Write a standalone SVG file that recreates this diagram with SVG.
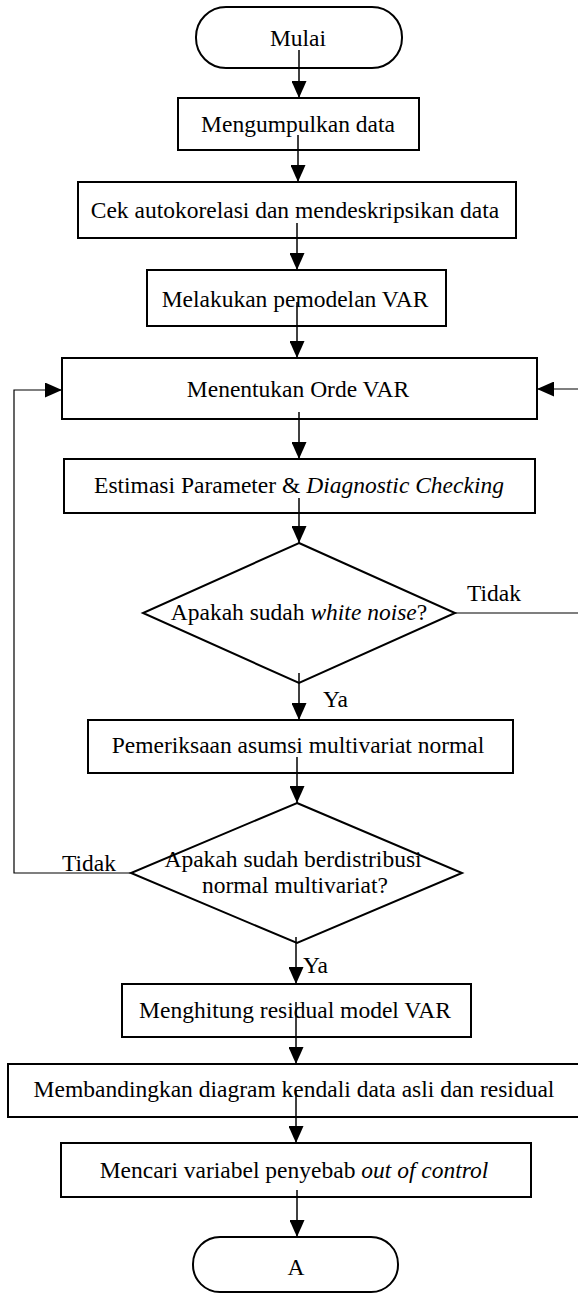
<svg xmlns="http://www.w3.org/2000/svg" width="578" height="1293" viewBox="0 0 578 1293">
<defs>
<marker id="ah" markerUnits="userSpaceOnUse" markerWidth="18" markerHeight="15" refX="17" refY="7.5" orient="auto">
<path d="M0,0 L17,7.5 L0,15 z" fill="#000"/>
</marker>
<style>
.n{fill:#fff;stroke:#000;stroke-width:2}
.t{fill:#000;text-anchor:middle}
.l{fill:#000}
.c{fill:none;stroke:#000;stroke-width:1.5}
.f{fill:none;stroke:#000;stroke-width:1.2}
</style>
</defs>
<rect width="578" height="1293" fill="#fff"/>
<g font-family="Liberation Serif, Times New Roman, serif" font-size="23.5">
<g id="n1"><rect class="n" x="196" y="7" width="206" height="61" rx="30"/><text class="t" x="298" y="46">Mulai</text></g>
<g id="n2"><rect class="n" x="178" y="98" width="241" height="52"/><text class="t" x="298" y="132">Mengumpulkan data</text></g>
<g id="n3"><rect class="n" x="78" y="182" width="438" height="56"/><text class="t" x="295" y="218">Cek autokorelasi dan mendeskripsikan data</text></g>
<g id="n4"><rect class="n" x="147" y="270" width="299" height="56"/><text class="t" x="295" y="307">Melakukan pemodelan VAR</text></g>
<g id="n5"><rect class="n" x="62" y="358" width="475" height="61"/><text class="t" x="298" y="397">Menentukan Orde VAR</text></g>
<g id="n6"><rect class="n" x="64" y="459" width="471" height="54"/><text class="t" x="299" y="493">Estimasi Parameter &amp; <tspan font-style="italic">Diagnostic Checking</tspan></text></g>
<g id="n7"><polygon class="n" points="299,543 455,613 299,683 143,613"/><text class="t" x="299" y="620">Apakah sudah <tspan font-style="italic">white noise</tspan>?</text></g>
<g id="n8"><rect class="n" x="88" y="720" width="425" height="53"/><text class="t" x="298" y="753">Pemeriksaan asumsi multivariat normal</text></g>
<g id="n9"><polygon class="n" points="297,803 462,873 297,943 131,873"/><text class="t" x="293" y="867">Apakah sudah berdistribusi</text><text class="t" x="295" y="893">normal multivariat?</text></g>
<g id="n10"><rect class="n" x="122" y="984" width="349" height="53"/><text class="t" x="295" y="1018">Menghitung residual model VAR</text></g>
<g id="n11"><rect class="n" x="8" y="1064" width="580" height="53"/><text class="t" x="294" y="1097">Membandingkan diagram kendali data asli dan residual</text></g>
<g id="n12"><rect class="n" x="61" y="1143" width="470" height="54"/><text class="t" x="294" y="1178">Mencari variabel penyebab <tspan font-style="italic">out of control</tspan></text></g>
<g id="n13"><rect class="n" x="193" y="1237" width="205" height="55" rx="27"/><text class="t" x="296" y="1275">A</text></g>
<g id="connectors">
<path class="c" d="M299,50 V98" marker-end="url(#ah)"/>
<path class="c" d="M298,135 V182" marker-end="url(#ah)"/>
<path class="c" d="M297,223 V270" marker-end="url(#ah)"/>
<path class="c" d="M297,302 V358" marker-end="url(#ah)"/>
<path class="c" d="M299,412 V459" marker-end="url(#ah)"/>
<path class="c" d="M299,498 V543" marker-end="url(#ah)"/>
<path class="c" d="M299,673 V720" marker-end="url(#ah)"/>
<path class="c" d="M297,757 V803" stroke-width="3" marker-end="url(#ah)"/>
<path class="c" d="M296,937 V984" marker-end="url(#ah)"/>
<path class="c" d="M296,1002 V1064" marker-end="url(#ah)"/>
<path class="c" d="M296,1090 V1143" marker-end="url(#ah)"/>
<path class="c" d="M297,1190 V1237" marker-end="url(#ah)"/>
<path class="f" d="M455,613 H582 V389 H537" marker-end="url(#ah)"/>
<path class="f" d="M131,873 H14 V390 H62" marker-end="url(#ah)"/>
<text class="l" x="467" y="601">Tidak</text>
<text class="l" x="323" y="707">Ya</text>
<text class="l" x="62" y="871">Tidak</text>
<text class="l" x="303" y="973">Ya</text>
</g>
</g>
</svg>
